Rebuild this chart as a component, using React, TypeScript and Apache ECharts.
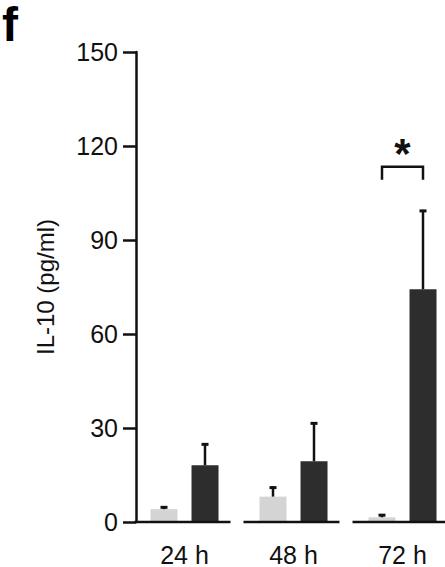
import React, { useEffect, useRef } from "react";
import * as echarts from "echarts";

const categories = ["24 h", "48 h", "72 h"];
const controlMean = [4.1, 8.1, 1.5];
const controlSD = [0.9, 3.2, 1.0];
const treatedMean = [18.1, 19.4, 74.3];
const treatedSD = [7.0, 12.4, 25.3];
const yTicks = { min: 0, max: 150, interval: 30 };
const significance = [{ category: 2, bracket: 113.4, legEnd: 109.2, star: 117.5, label: "*" }];

const FONT = "'Liberation Sans', Arial, sans-serif";
const INK = "#111111";
const LIGHT = "#d4d4d4";
const DARK = "#2d2d2d";
const HALF_PAIR = 20.5;

export default function App() {
  const ref = useRef<HTMLDivElement>(null);
  useEffect(() => {
    document.body.style.margin = "0";
    const chart = echarts.init(ref.current!, null, { renderer: "svg" });

    const errData: number[][] = [];
    controlMean.forEach((m, i) => errData.push([i, m, m + controlSD[i], -1]));
    treatedMean.forEach((m, i) => errData.push([i, m, m + treatedSD[i], 1]));

    chart.setOption({
      animation: false,
      grid: { left: 130, top: 52, right: 3, bottom: 45 },
      xAxis: {
        type: "category",
        data: categories,
        axisLine: { show: false },
        axisTick: { show: false },
        axisLabel: { fontSize: 25, color: INK, fontFamily: FONT, margin: 20 },
      },
      yAxis: {
        type: "value",
        min: yTicks.min,
        max: yTicks.max,
        interval: yTicks.interval,
        offset: -6,
        name: "IL-10 (pg/ml)",
        nameLocation: "middle",
        nameGap: 79,
        nameTextStyle: { fontSize: 24, color: INK, fontFamily: FONT },
        axisLine: { show: true, lineStyle: { color: INK, width: 2.5 } },
        axisTick: { show: true, length: 13, lineStyle: { color: INK, width: 2.5 } },
        axisLabel: { fontSize: 25, color: INK, fontFamily: FONT, margin: 18 },
        splitLine: { show: false },
      },
      graphic: [
        {
          type: "text",
          left: 2,
          top: 0,
          style: { text: "f", fontSize: 48, fontWeight: "bold", fill: "#000", fontFamily: FONT },
        },
      ],
      series: [
        {
          type: "bar",
          data: controlMean,
          barWidth: 27,
          barGap: "52%",
          itemStyle: { color: LIGHT },
          z: 2,
        },
        {
          type: "bar",
          data: treatedMean,
          barWidth: 27,
          barGap: "52%",
          itemStyle: { color: DARK },
          z: 2,
        },
        {
          type: "custom",
          z: 5,
          data: errData,
          renderItem: (params: any, api: any) => {
            const c = api.value(0);
            const base = api.coord([c, api.value(1)]);
            const top = api.coord([c, api.value(2)]);
            const x = base[0] + api.value(3) * HALF_PAIR;
            return {
              type: "group",
              children: [
                {
                  type: "line",
                  shape: { x1: x, y1: base[1], x2: x, y2: top[1] },
                  style: { stroke: INK, lineWidth: 2.5 },
                },
                {
                  type: "line",
                  shape: { x1: x - 3.5, y1: top[1] + 1, x2: x + 3.5, y2: top[1] + 1 },
                  style: { stroke: INK, lineWidth: 3 },
                },
              ],
            };
          },
        },
        {
          type: "custom",
          z: 6,
          data: categories.map((_, i) => [i, 0]),
          renderItem: (params: any, api: any) => {
            const p = api.coord([api.value(0), api.value(1)]);
            return {
              type: "line",
              shape: { x1: p[0] - 50, y1: p[1], x2: p[0] + 46, y2: p[1] },
              style: { stroke: INK, lineWidth: 2.5 },
            };
          },
        },
        {
          type: "custom",
          z: 6,
          data: significance.map((s) => [s.category, s.bracket, s.legEnd, s.star]),
          renderItem: (params: any, api: any) => {
            const c = api.value(0);
            const b = api.coord([c, api.value(1)]);
            const l = api.coord([c, api.value(2)]);
            const s = api.coord([c, api.value(3)]);
            const x1 = b[0] - HALF_PAIR;
            const x2 = b[0] + HALF_PAIR;
            return {
              type: "group",
              children: [
                {
                  type: "polyline",
                  shape: { points: [[x1, l[1]], [x1, b[1]], [x2, b[1]], [x2, l[1]]] },
                  style: { stroke: INK, lineWidth: 2.5, fill: null },
                },
                {
                  type: "text",
                  x: b[0],
                  y: s[1],
                  style: {
                    text: significance[params.dataIndex].label,
                    fontSize: 42,
                    fontWeight: "bold",
                    fill: INK,
                    fontFamily: FONT,
                    align: "center",
                    verticalAlign: "middle",
                  },
                },
              ],
            };
          },
        },
      ],
    });
    return () => chart.dispose();
  }, []);
  return (
    <div style={{ width: 445, height: 567, overflow: "hidden" }}>
      <div ref={ref} style={{ width: 460, height: 567 }} />
    </div>
  );
}
